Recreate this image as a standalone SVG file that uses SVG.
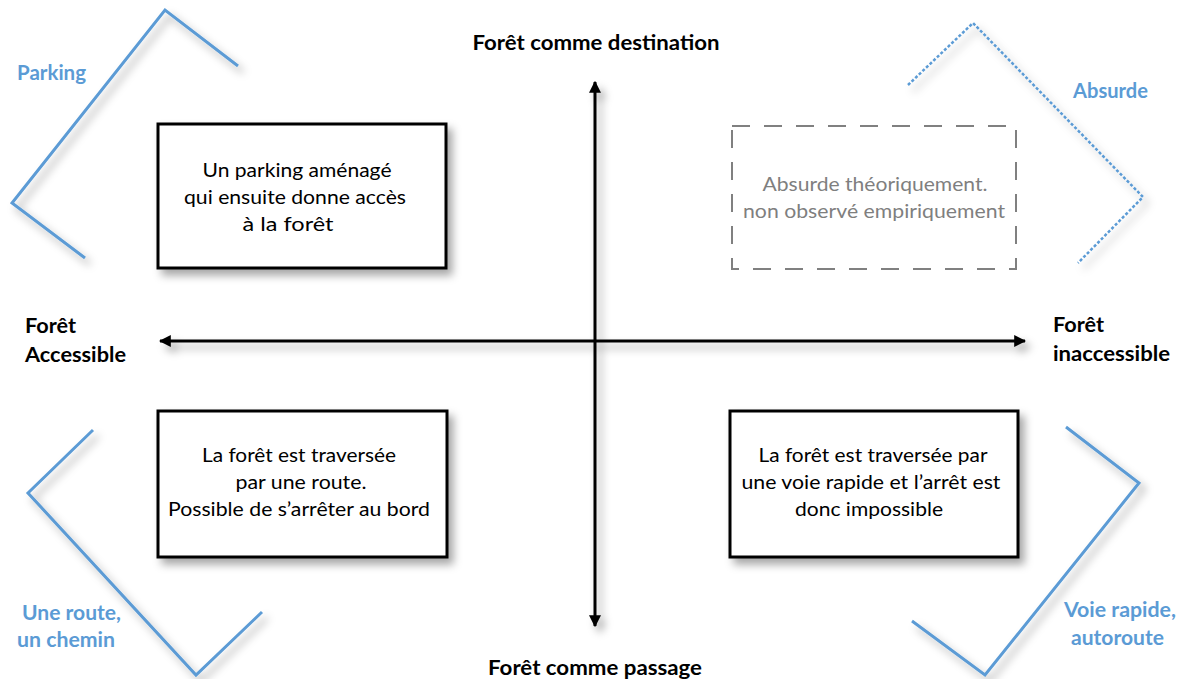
<svg xmlns="http://www.w3.org/2000/svg" width="1182" height="679" viewBox="0 0 1182 679">
<defs>
<filter id="sh" x="-20%" y="-20%" width="140%" height="140%">
<feDropShadow dx="5" dy="6" stdDeviation="4" flood-color="#000" flood-opacity="0.35"/>
</filter>
<marker id="ah" viewBox="0 0 10 10" refX="9" refY="5" markerWidth="4" markerHeight="4" orient="auto-start-reverse">
<path d="M0,0 L10,5 L0,10 Z" fill="#000"/>
</marker>
<style>
.box{fill:#fff;stroke:#000;stroke-width:3}
.dbox{fill:#fff;stroke:#808080;stroke-width:2;stroke-dasharray:18 14}
.axis{stroke:#000;stroke-width:3;fill:none}
.br{fill:none;stroke:#5b9bd5;stroke-width:3}
.brd{fill:none;stroke:#5b9bd5;stroke-width:2.5;stroke-dasharray:3 2}
.t{font-family:Lato,"Liberation Sans",sans-serif;font-size:18.5px;fill:#000;text-anchor:middle}
.tg{font-family:Lato,"Liberation Sans",sans-serif;font-size:18.5px;fill:#7f7f7f;text-anchor:middle}
.b{font-family:Lato,"Liberation Sans",sans-serif;font-size:21px;font-weight:bold;fill:#000}
.bl{font-family:Lato,"Liberation Sans",sans-serif;font-size:21px;font-weight:bold;fill:#5b9bd5}
</style>
</defs>
<rect width="1182" height="679" fill="#fff"/>

<g id="connectors" filter="url(#sh)">
<line class="axis" x1="160" y1="341" x2="1025" y2="341" marker-start="url(#ah)" marker-end="url(#ah)"/>
<line class="axis" x1="595" y1="82" x2="595" y2="626" marker-start="url(#ah)" marker-end="url(#ah)"/>
</g>

<g id="brackets" filter="url(#sh)">
<polyline class="br" points="238,66 165,10 12,203 85,258"/>
<polyline class="brd" points="908,85 973,23 1143,197 1078,263"/>
<polyline class="br" points="93,430 28,493 196,675 262,612"/>
<polyline class="br" points="1066,427 1139,483 985,675 912,621"/>
</g>

<g id="box-parking">
<rect class="box" x="158" y="124" width="288" height="144" filter="url(#sh)"/>
<text class="t" x="297" y="177" textLength="189" lengthAdjust="spacingAndGlyphs">Un parking aménagé</text>
<text class="t" x="295" y="204" textLength="222" lengthAdjust="spacingAndGlyphs">qui ensuite donne accès</text>
<text class="t" x="288" y="231" textLength="91" lengthAdjust="spacingAndGlyphs">à la forêt</text>
</g>

<g id="box-absurde">
<rect class="dbox" x="732" y="126" width="284" height="143"/>
<text class="tg" x="875" y="191" textLength="225" lengthAdjust="spacingAndGlyphs">Absurde théoriquement.</text>
<text class="tg" x="874" y="218" textLength="262" lengthAdjust="spacingAndGlyphs">non observé empiriquement</text>
</g>

<g id="box-route">
<rect class="box" x="158" y="411" width="289" height="146" filter="url(#sh)"/>
<text class="t" x="299" y="462" textLength="194" lengthAdjust="spacingAndGlyphs">La forêt est traversée</text>
<text class="t" x="301" y="489" textLength="131" lengthAdjust="spacingAndGlyphs">par une route.</text>
<text class="t" x="299" y="516" textLength="262" lengthAdjust="spacingAndGlyphs">Possible de s’arrêter au bord</text>
</g>

<g id="box-voie">
<rect class="box" x="730" y="411" width="288" height="146" filter="url(#sh)"/>
<text class="t" x="873" y="462" textLength="229" lengthAdjust="spacingAndGlyphs">La forêt est traversée par</text>
<text class="t" x="871" y="489" textLength="259" lengthAdjust="spacingAndGlyphs">une voie rapide et l’arrêt est</text>
<text class="t" x="869" y="516" textLength="148" lengthAdjust="spacingAndGlyphs">donc impossible</text>
</g>

<g id="axis-labels">
<text class="b" x="596" y="50" text-anchor="middle" textLength="247" lengthAdjust="spacingAndGlyphs">Forêt comme destination</text>
<text class="b" x="595" y="675" text-anchor="middle" textLength="214" lengthAdjust="spacingAndGlyphs">Forêt comme passage</text>
<text class="b" x="25" y="333" textLength="51" lengthAdjust="spacingAndGlyphs">Forêt</text>
<text class="b" x="25" y="362" textLength="101" lengthAdjust="spacingAndGlyphs">Accessible</text>
<text class="b" x="1053" y="332" textLength="51" lengthAdjust="spacingAndGlyphs">Forêt</text>
<text class="b" x="1053" y="361" textLength="117" lengthAdjust="spacingAndGlyphs">inaccessible</text>
</g>

<g id="bracket-labels">
<text class="bl" x="17" y="80" textLength="69" lengthAdjust="spacingAndGlyphs">Parking</text>
<text class="bl" x="1073" y="98" textLength="75" lengthAdjust="spacingAndGlyphs">Absurde</text>
<text class="bl" x="22" y="620" textLength="99" lengthAdjust="spacingAndGlyphs">Une route,</text>
<text class="bl" x="17" y="647" textLength="98" lengthAdjust="spacingAndGlyphs">un chemin</text>
<text class="bl" x="1064" y="617" textLength="112" lengthAdjust="spacingAndGlyphs">Voie rapide,</text>
<text class="bl" x="1071" y="645" textLength="93" lengthAdjust="spacingAndGlyphs">autoroute</text>
</g>
</svg>
